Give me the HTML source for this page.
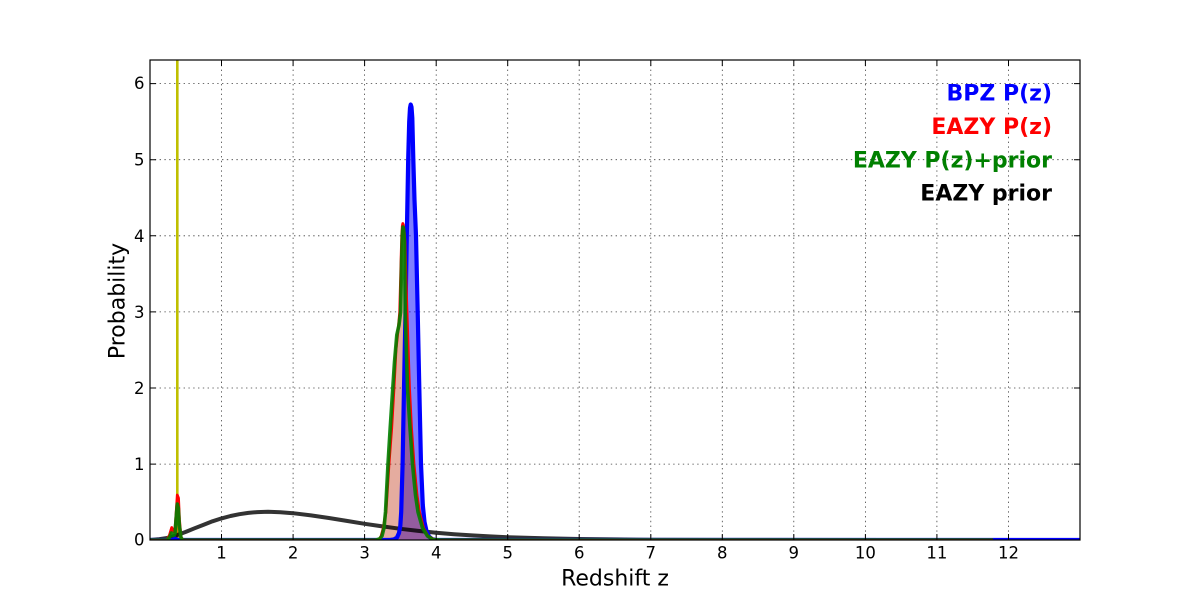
<!DOCTYPE html>
<html>
<head>
<meta charset="utf-8">
<style>
html,body{margin:0;padding:0;background:#fff;}
svg{display:block;}
text{font-family:"DejaVu Sans","Liberation Sans",sans-serif;}
</style>
</head>
<body>
<svg width="1200" height="600" viewBox="0 0 1200 600" xmlns="http://www.w3.org/2000/svg">
<defs>
<clipPath id="pa"><rect x="150" y="60" width="930" height="480"/></clipPath>
</defs>
<rect width="1200" height="600" fill="#fff"/>

<!-- grid -->
<g stroke="#000" stroke-width="0.8" stroke-dasharray="1.4,3.4" opacity="0.75">
<line x1="221.5" y1="60" x2="221.5" y2="540"/>
<line x1="293.1" y1="60" x2="293.1" y2="540"/>
<line x1="364.6" y1="60" x2="364.6" y2="540"/>
<line x1="436.2" y1="60" x2="436.2" y2="540"/>
<line x1="507.7" y1="60" x2="507.7" y2="540"/>
<line x1="579.2" y1="60" x2="579.2" y2="540"/>
<line x1="650.8" y1="60" x2="650.8" y2="540"/>
<line x1="722.3" y1="60" x2="722.3" y2="540"/>
<line x1="793.8" y1="60" x2="793.8" y2="540"/>
<line x1="865.4" y1="60" x2="865.4" y2="540"/>
<line x1="936.9" y1="60" x2="936.9" y2="540"/>
<line x1="1008.5" y1="60" x2="1008.5" y2="540"/>
<line x1="150" y1="464.1" x2="1080" y2="464.1"/>
<line x1="150" y1="388" x2="1080" y2="388"/>
<line x1="150" y1="311.9" x2="1080" y2="311.9"/>
<line x1="150" y1="235.8" x2="1080" y2="235.8"/>
<line x1="150" y1="159.7" x2="1080" y2="159.7"/>
<line x1="150" y1="83.6" x2="1080" y2="83.6"/>
</g>

<g clip-path="url(#pa)" fill="none" stroke-linejoin="round" stroke-linecap="butt">
<!-- yellow vertical -->
<line x1="177.3" y1="60" x2="177.3" y2="540" stroke="#bfbf00" stroke-width="2.6"/>

<!-- fills -->
<path d="M390,540 L394,539.4 L397,537.5 L399,533 L400.3,526 L401.2,512 L402.6,464 L404,388 L405.5,312 L406.8,236 L408.2,159 L409.2,122 L410,108 L410.7,104.5 L411.5,107 L412.3,118 L413.3,159 L414.5,200 L416,236 L417.7,312 L419.3,388 L421,464 L422.8,505 L424.5,522 L426.5,531 L429,536.5 L432,539 L436,540 Z" fill="#0000ff" fill-opacity="0.5" stroke="none"/>
<path d="M167,540 L169.5,535 L171.7,527.5 L173.5,531 L174.8,532 L176,515 L177.3,495 L178.5,498 L179.5,520 L181,537 L183,540 Z M376,540 L379,539.2 L381,536.5 L383,529 L386,512 L389,464 L391.7,428 L394,388 L396,350 L398.3,328 L399.7,312 L400.8,270 L401.7,236 L402.3,226 L402.8,223.5 L403.4,225 L404.2,232 L405,242 L406,280 L407,312 L409.5,388 L411.5,428 L414,464 L417,495 L419.5,512 L423.5,528 L428,536 L434,539.5 L440,540 Z" fill="#ff0000" fill-opacity="0.3" stroke="none"/>
<path d="M167,540 L169.5,537.5 L171.5,533 L173.5,535.5 L175,533.5 L176.3,516 L177.3,504 L178.3,508 L179.3,525 L181,538 L183,540 Z M376,540 L379.5,539 L382,536 L384,528 L385.5,512 L388,464 L390.2,428 L392.8,388 L394.5,362 L396.8,335 L399,325 L400.6,312 L401.6,262 L402.4,234 L403,227 L403.6,229 L404.3,240 L404.7,262 L405.2,312 L407.5,388 L410,428 L412.5,464 L415.5,495 L418,512 L422.5,528 L427.5,536 L433,539.5 L440,540 Z" fill="#008000" fill-opacity="0.1" stroke="none"/>

<!-- prior -->
<path d="M150,540 L158,539.3 L167.9,537.9 L176,535.5 L185.8,531.9 L194.5,528.3 L203.7,524.7 L212.5,521.3 L221.5,518.4 L230.5,516 L239.4,514.2 L248.3,512.9 L257.3,512.1 L268,511.8 L280.5,512.2 L293.1,513.2 L311,515.4 L328.9,518 L346.7,520.9 L364.6,523.8 L382.5,526.4 L400.4,528.8 L418.3,530.9 L436.2,532.7 L454,534.2 L471.9,535.4 L489.8,536.4 L507.7,537.2 L543.5,538.3 L579.2,539 L615,539.4 L650.8,539.7 L722.3,539.9 L1080,540" stroke="#000" stroke-opacity="0.8" stroke-width="4"/>

<!-- blue line -->
<path d="M150,540 L390,540 L394,539.4 L397,537.5 L399,533 L400.3,526 L401.2,512 L402.6,464 L404,388 L405.5,312 L406.8,236 L408.2,159 L409.2,122 L410,108 L410.7,104.5 L411.5,107 L412.3,118 L413.3,159 L414.5,200 L416,236 L417.7,312 L419.3,388 L421,464 L422.8,505 L424.5,522 L426.5,531 L429,536.5 L432,539 L436,540 L1080,540" stroke="#0000ff" stroke-width="4.2"/>
<path d="M170,540 L173,539 L175,538 L177,539 L179,540" stroke="#0000ff" stroke-width="3"/>

<!-- red line -->
<path d="M150,540 L167,540 L169.5,535 L171.7,527.5 L173.5,531 L174.8,532 L176,515 L177.3,495 L178.5,498 L179.5,520 L181,537 L183,540 L376,540 L379,539.2 L381,536.5 L383,529 L386,512 L389,464 L391.7,428 L394,388 L396,350 L398.3,328 L399.7,312 L400.8,270 L401.7,236 L402.3,226 L402.8,223.5 L403.4,225 L404.2,232 L405,242 L406,280 L407,312 L409.5,388 L411.5,428 L414,464 L417,495 L419.5,512 L423.5,528 L428,536 L434,539.5 L440,540 L993,540" stroke="#ff0000" stroke-width="2.8"/>

<!-- green line -->
<path d="M150,540 L167,540 L169.5,537.5 L171.5,533 L173.5,535.5 L175,533.5 L176.3,516 L177.3,504 L178.3,508 L179.3,525 L181,538 L183,540 L376,540 L379.5,539 L382,536 L384,528 L385.5,512 L388,464 L390.2,428 L392.8,388 L394.5,362 L396.8,335 L399,325 L400.6,312 L401.6,262 L402.4,234 L403,227 L403.6,229 L404.3,240 L404.7,262 L405.2,312 L407.5,388 L410,428 L412.5,464 L415.5,495 L418,512 L422.5,528 L427.5,536 L433,539.5 L440,540 L993,540" stroke="#008000" stroke-width="3.6" stroke-opacity="0.9"/>

<!-- brownish baseline overlap (red+green) -->
<path d="M150,540 L167,540 M183,540 L376,540 M440,540 L993,540" stroke="#6b3a10" stroke-width="2.6" stroke-opacity="0.8"/>
</g>

<!-- ticks -->
<g stroke="#000" stroke-width="1">
<path d="M221.5,540v-6M293.1,540v-6M364.6,540v-6M436.2,540v-6M507.7,540v-6M579.2,540v-6M650.8,540v-6M722.3,540v-6M793.8,540v-6M865.4,540v-6M936.9,540v-6M1008.5,540v-6"/>
<path d="M221.5,60v6M293.1,60v6M364.6,60v6M436.2,60v6M507.7,60v6M579.2,60v6M650.8,60v6M722.3,60v6M793.8,60v6M865.4,60v6M936.9,60v6M1008.5,60v6"/>
<path d="M150,464.1h6M150,388h6M150,311.9h6M150,235.8h6M150,159.7h6M150,83.6h6"/>
<path d="M1080,464.1h-6M1080,388h-6M1080,311.9h-6M1080,235.8h-6M1080,159.7h-6M1080,83.6h-6"/>
</g>

<!-- frame -->
<rect x="150" y="60" width="930" height="480" fill="none" stroke="#000" stroke-width="1.2"/>

<!-- x tick labels -->
<g font-size="16.5" fill="#000" text-anchor="middle">
<text x="221.5" y="558.5">1</text>
<text x="293.1" y="558.5">2</text>
<text x="364.6" y="558.5">3</text>
<text x="436.2" y="558.5">4</text>
<text x="507.7" y="558.5">5</text>
<text x="579.2" y="558.5">6</text>
<text x="650.8" y="558.5">7</text>
<text x="722.3" y="558.5">8</text>
<text x="793.8" y="558.5">9</text>
<text x="865.4" y="558.5">10</text>
<text x="936.9" y="558.5">11</text>
<text x="1008.5" y="558.5">12</text>
</g>

<!-- y tick labels -->
<g font-size="16.5" fill="#000" text-anchor="end">
<text x="144.5" y="545.5">0</text>
<text x="144.5" y="470">1</text>
<text x="144.5" y="394">2</text>
<text x="144.5" y="318">3</text>
<text x="144.5" y="242">4</text>
<text x="144.5" y="165.5">5</text>
<text x="144.5" y="89">6</text>
</g>

<!-- axis labels -->
<text x="615" y="585.5" font-size="22" text-anchor="middle" fill="#000">Redshift z</text>
<text transform="translate(124.5,301) rotate(-90)" font-size="22" text-anchor="middle" fill="#000">Probability</text>

<!-- legend texts -->
<g font-size="22" font-weight="bold" text-anchor="end">
<text x="1052" y="100.5" fill="#0000ff">BPZ P(z)</text>
<text x="1052" y="134" fill="#ff0000">EAZY P(z)</text>
<text x="1052" y="167.3" fill="#008000">EAZY P(z)+prior</text>
<text x="1052" y="200.7" fill="#000">EAZY prior</text>
</g>
</svg>
</body>
</html>
